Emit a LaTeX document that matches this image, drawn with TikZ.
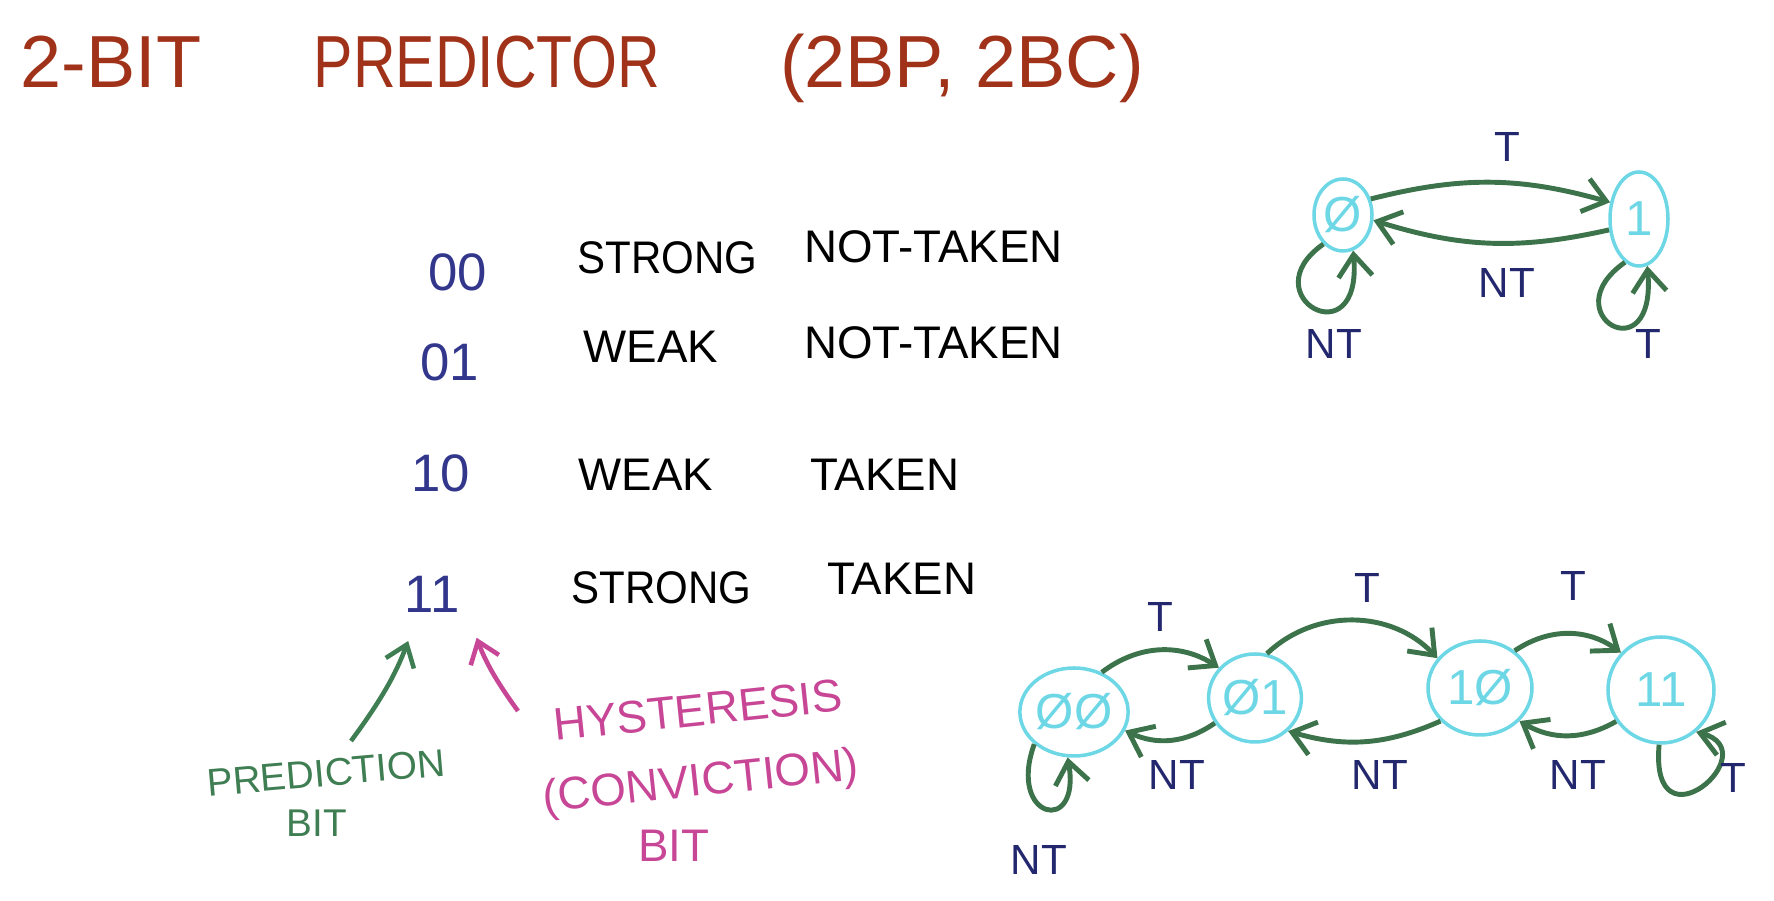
\documentclass[tikz,border=0pt]{standalone}
\usepackage{fontspec}
\setmainfont{Liberation Sans}
\usepackage{xcolor}
\usetikzlibrary{arrows.meta,positioning,shapes.geometric}
\definecolor{titlered}{HTML}{A0321A}
\definecolor{bitblue}{HTML}{32378C}
\definecolor{lblnavy}{HTML}{23286E}
\definecolor{edgegreen}{HTML}{3C734B}
\definecolor{predgreen}{HTML}{3F7D52}
\definecolor{hystpink}{HTML}{C84696}
\definecolor{statecyan}{HTML}{6ED7E6}

\begin{document}
\begin{tikzpicture}[every node/.style={font=\fontsize{13}{15}\selectfont},
  state/.style={ellipse, draw=statecyan, line width=1pt, text=statecyan, inner sep=0pt, font=\fontsize{14}{16}\selectfont},
  edge/.style={edgegreen, line width=1.4pt, -{Straight Barb[length=2.2mm,width=3.4mm]}},
  lbl/.style={text=lblnavy, font=\fontsize{12}{14}\selectfont},
  bits/.style={text=bitblue, font=\fontsize{15}{17}\selectfont},
  ttl/.style={text=titlered, font=\fontsize{21}{25}\selectfont}]
  \useasboundingbox (0,0) rectangle (17.74,9.01);
  % title
  \node[ttl] (ttl1) at (1.11,8.39) {2-BIT};
  \node[ttl, xscale=0.8] (ttl2) at (4.87,8.39) {PREDICTOR};
  \node[ttl] (ttl3) at (9.62,8.33) {(2BP, 2BC)};

  % encodings
  \foreach \b/\x/\y in {00/4.58/6.29, 01/4.50/5.39, 10/4.41/4.28, 11/4.32/3.07}
    \node[bits] (bits\b) at (\x,\y) {\b};
  \node[anchor=west, xscale=0.92] (str00) at (5.66,6.43) {STRONG};
  \node[anchor=west] (nt00) at (7.92,6.54) {NOT-TAKEN};
  \node[anchor=west] (wk01) at (5.71,5.54) {WEAK};
  \node[anchor=west] (nt01) at (7.92,5.58) {NOT-TAKEN};
  \node[anchor=west] (wk10) at (5.66,4.26) {WEAK};
  \node[anchor=west] (tk10) at (7.98,4.26) {TAKEN};
  \node[anchor=west, xscale=0.92] (str11) at (5.60,3.13) {STRONG};
  \node[anchor=west] (tk11) at (8.15,3.22) {TAKEN};

  % which bit is which
  \node[text=predgreen, font=\fontsize{11}{13}\selectfont, rotate=5] (predA) at (3.26,1.28) {PREDICTION};
  \node[text=predgreen, font=\fontsize{11}{13}\selectfont] (predB) at (3.17,0.78) {BIT};
  \node[text=hystpink, rotate=6] (hystA) at (6.98,1.91) {HYSTERESIS};
  \node[text=hystpink, rotate=6] (hystB) at (7.01,1.17) {(CONVICTION)};
  \node[text=hystpink] (hystC) at (6.74,0.55) {BIT};
  \coordinate (predtail) at (3.51,1.60);
  \coordinate (hysttail) at (5.18,1.90);
  \draw[predgreen, line width=1.3pt, -{Straight Barb[length=2mm,width=3mm]}, shorten >=5pt] (predtail) to[bend right=8] (bits11.240);
  \draw[hystpink, line width=1.3pt, -{Straight Barb[length=2mm,width=3mm]}, shorten >=4pt] (hysttail) to[bend left=8] (bits11.south east);

  % 1-bit predictor
  \node[state, minimum width=0.58cm, minimum height=0.72cm] (one0) at (13.43,6.86) {Ø};
  \node[state, minimum width=0.58cm, minimum height=0.94cm] (one1) at (16.39,6.82) {1};
  \draw[edge] (one0.30) to[bend left=15] (one1.150);
  \draw[edge] (one1.200) to[bend left=15] (one0.-10);
  \draw[edge] (one0.236) .. controls +(215:0.9) and +(275:1.1) .. (one0.286);
  \draw[edge] (one1.252) .. controls +(215:0.9) and +(275:1.1) .. (one1.280);
  \node[lbl] (oneT) at (15.07,7.54) {T};
  \node[lbl] (oneNT) at (15.07,6.18) {NT};
  \node[lbl] (oneNTs) at (13.34,5.57) {NT};
  \node[lbl] (oneTs) at (16.48,5.57) {T};

  % 2-bit counter
  \node[state, minimum width=1.04cm, minimum height=0.88cm] (b00) at (10.74,1.89) {ØØ};
  \node[state, minimum width=0.92cm, minimum height=0.88cm] (b01) at (12.55,2.03) {Ø1};
  \node[state, minimum width=1.04cm, minimum height=0.94cm] (b10) at (14.80,2.13) {1Ø};
  \node[state, minimum width=1.06cm, minimum height=1.06cm] (b11) at (16.61,2.11) {11};
  \draw[edge] (b00.55) to[bend left=35] (b01.140);
  \draw[edge] (b01.75) to[bend left=45] (b10.145);
  \draw[edge] (b10.47) to[bend left=35] (b11.137);
  \draw[edge] (b01.212) to[bend left=30] (b00.-20);
  \draw[edge] (b10.220) to[bend left=20] (b01.-45);
  \draw[edge] (b11.215) to[bend left=30] (b10.-40);
  \draw[edge] (b00.219) .. controls +(250:0.8) and +(280:0.8) .. (b00.262);
  \draw[edge] (b11.268) .. controls +(265:1.1) and +(-15:0.75) .. (b11.-50);
  \node[lbl] (cT1) at (11.60,2.84) {T};
  \node[lbl] (cT2) at (13.67,3.13) {T};
  \node[lbl] (cT3) at (15.73,3.15) {T};
  \node[lbl] (cNT1) at (11.77,1.26) {NT};
  \node[lbl] (cNT2) at (13.80,1.26) {NT};
  \node[lbl] (cNT3) at (15.78,1.26) {NT};
  \node[lbl] (cNTs) at (10.39,0.41) {NT};
  \node[lbl] (cTs) at (17.33,1.23) {T};
\end{tikzpicture}
\end{document}
